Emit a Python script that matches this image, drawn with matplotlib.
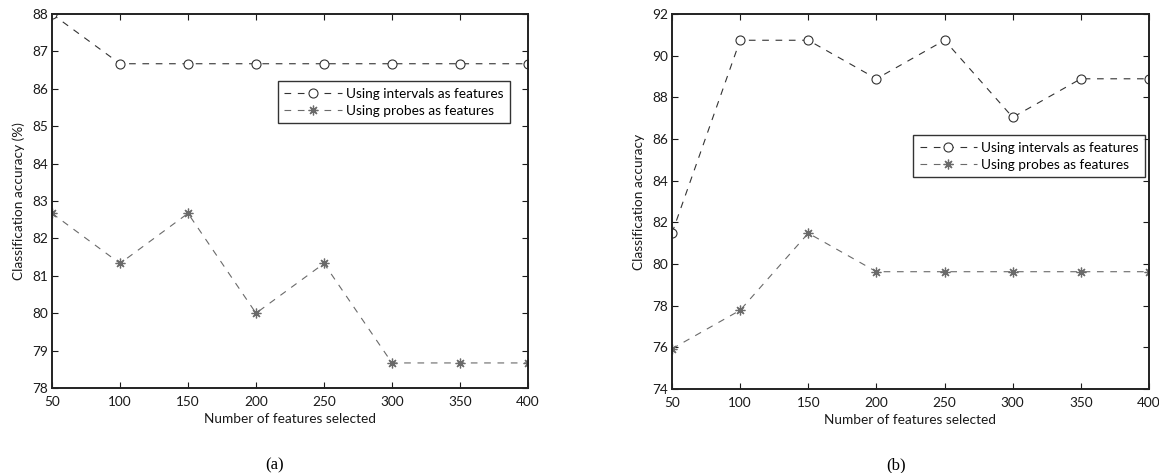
import matplotlib
matplotlib.use("Agg")
import matplotlib.pyplot as plt

plt.rcParams['font.family'] = ['Lato', 'DejaVu Sans']

features = [50, 100, 150, 200, 250, 300, 350, 400]

a_intervals = [88.0, 86.67, 86.67, 86.67, 86.67, 86.67, 86.67, 86.67]
a_probes = [82.67, 81.33, 82.67, 80.0, 81.33, 78.67, 78.67, 78.67]

b_intervals = [81.48, 90.74, 90.74, 88.89, 90.74, 87.04, 88.89, 88.89]
b_probes = [75.93, 77.78, 81.48, 79.63, 79.63, 79.63, 79.63, 79.63]

label_intervals = "Using intervals as features"
label_probes = "Using probes as features"
xlabel = "Number of features selected"
ylabel_a = "Classification accuracy (%)"
ylabel_b = "Classification accuracy"
captions = ["(a)", "(b)"]

C_INT = '#333333'
C_PRB = '#6a6a6a'
FS = 9.8
TXT = '#1a1a1a'

fig = plt.figure(figsize=(11.59, 4.73), dpi=100)
ax1 = fig.add_axes([52/1159, 85/473, 476/1159, 374/473])
ax2 = fig.add_axes([672/1159, 84/473, 477/1159, 375/473])


def draw(ax, yi, yp, ylim, yticks, ylabel, legend_anchor):
    ax.plot(features, yi, linestyle=(0, (6, 6)), color=C_INT, lw=0.8,
            marker='o', markersize=6.5, markerfacecolor='white',
            markeredgecolor=C_INT, markeredgewidth=0.8, label=label_intervals)
    ax.plot(features, yp, linestyle=(0, (6, 6)), color=C_PRB, lw=0.8,
            marker=(8, 2, 0), markersize=7, markerfacecolor=C_PRB,
            markeredgecolor=C_PRB, markeredgewidth=0.9, label=label_probes)
    ax.set_xlim(50, 400)
    ax.set_ylim(*ylim)
    ax.set_xticks(features)
    ax.set_yticks(yticks)
    ax.tick_params(direction='in', length=4, width=0.8, top=True, right=True,
                   labelsize=FS, colors=TXT)
    ax.tick_params(axis='x', pad=6)
    ax.tick_params(axis='y', pad=3)
    for s in ax.spines.values():
        s.set_linewidth(1.4)
        s.set_color('#222222')
    ax.set_xlabel(xlabel, fontsize=FS, labelpad=3, color=TXT)
    ax.set_ylabel(ylabel, fontsize=FS, labelpad=5, color=TXT)
    leg = ax.legend(loc='upper right', bbox_to_anchor=legend_anchor,
                    borderaxespad=0, fontsize=FS, frameon=True, fancybox=False,
                    handlelength=4.2, handletextpad=0.3, borderpad=0.5,
                    labelspacing=0.35, edgecolor='black', handleheight=0.8)
    leg.get_frame().set_linewidth(1.0)


draw(ax1, a_intervals, a_probes, (78, 88), list(range(78, 89)), ylabel_a,
     (0.962, 0.821))
draw(ax2, b_intervals, b_probes, (74, 92), list(range(74, 93, 2)), ylabel_b,
     (0.992, 0.677))

fig.text(275/1159, 1 - 465/473, captions[0], ha='center', va='center',
         fontsize=12, family='Liberation Serif')
fig.text(896/1159, 1 - 465/473, captions[1], ha='center', va='center',
         fontsize=12, family='Liberation Serif')

fig.savefig('out.png', dpi=100)
